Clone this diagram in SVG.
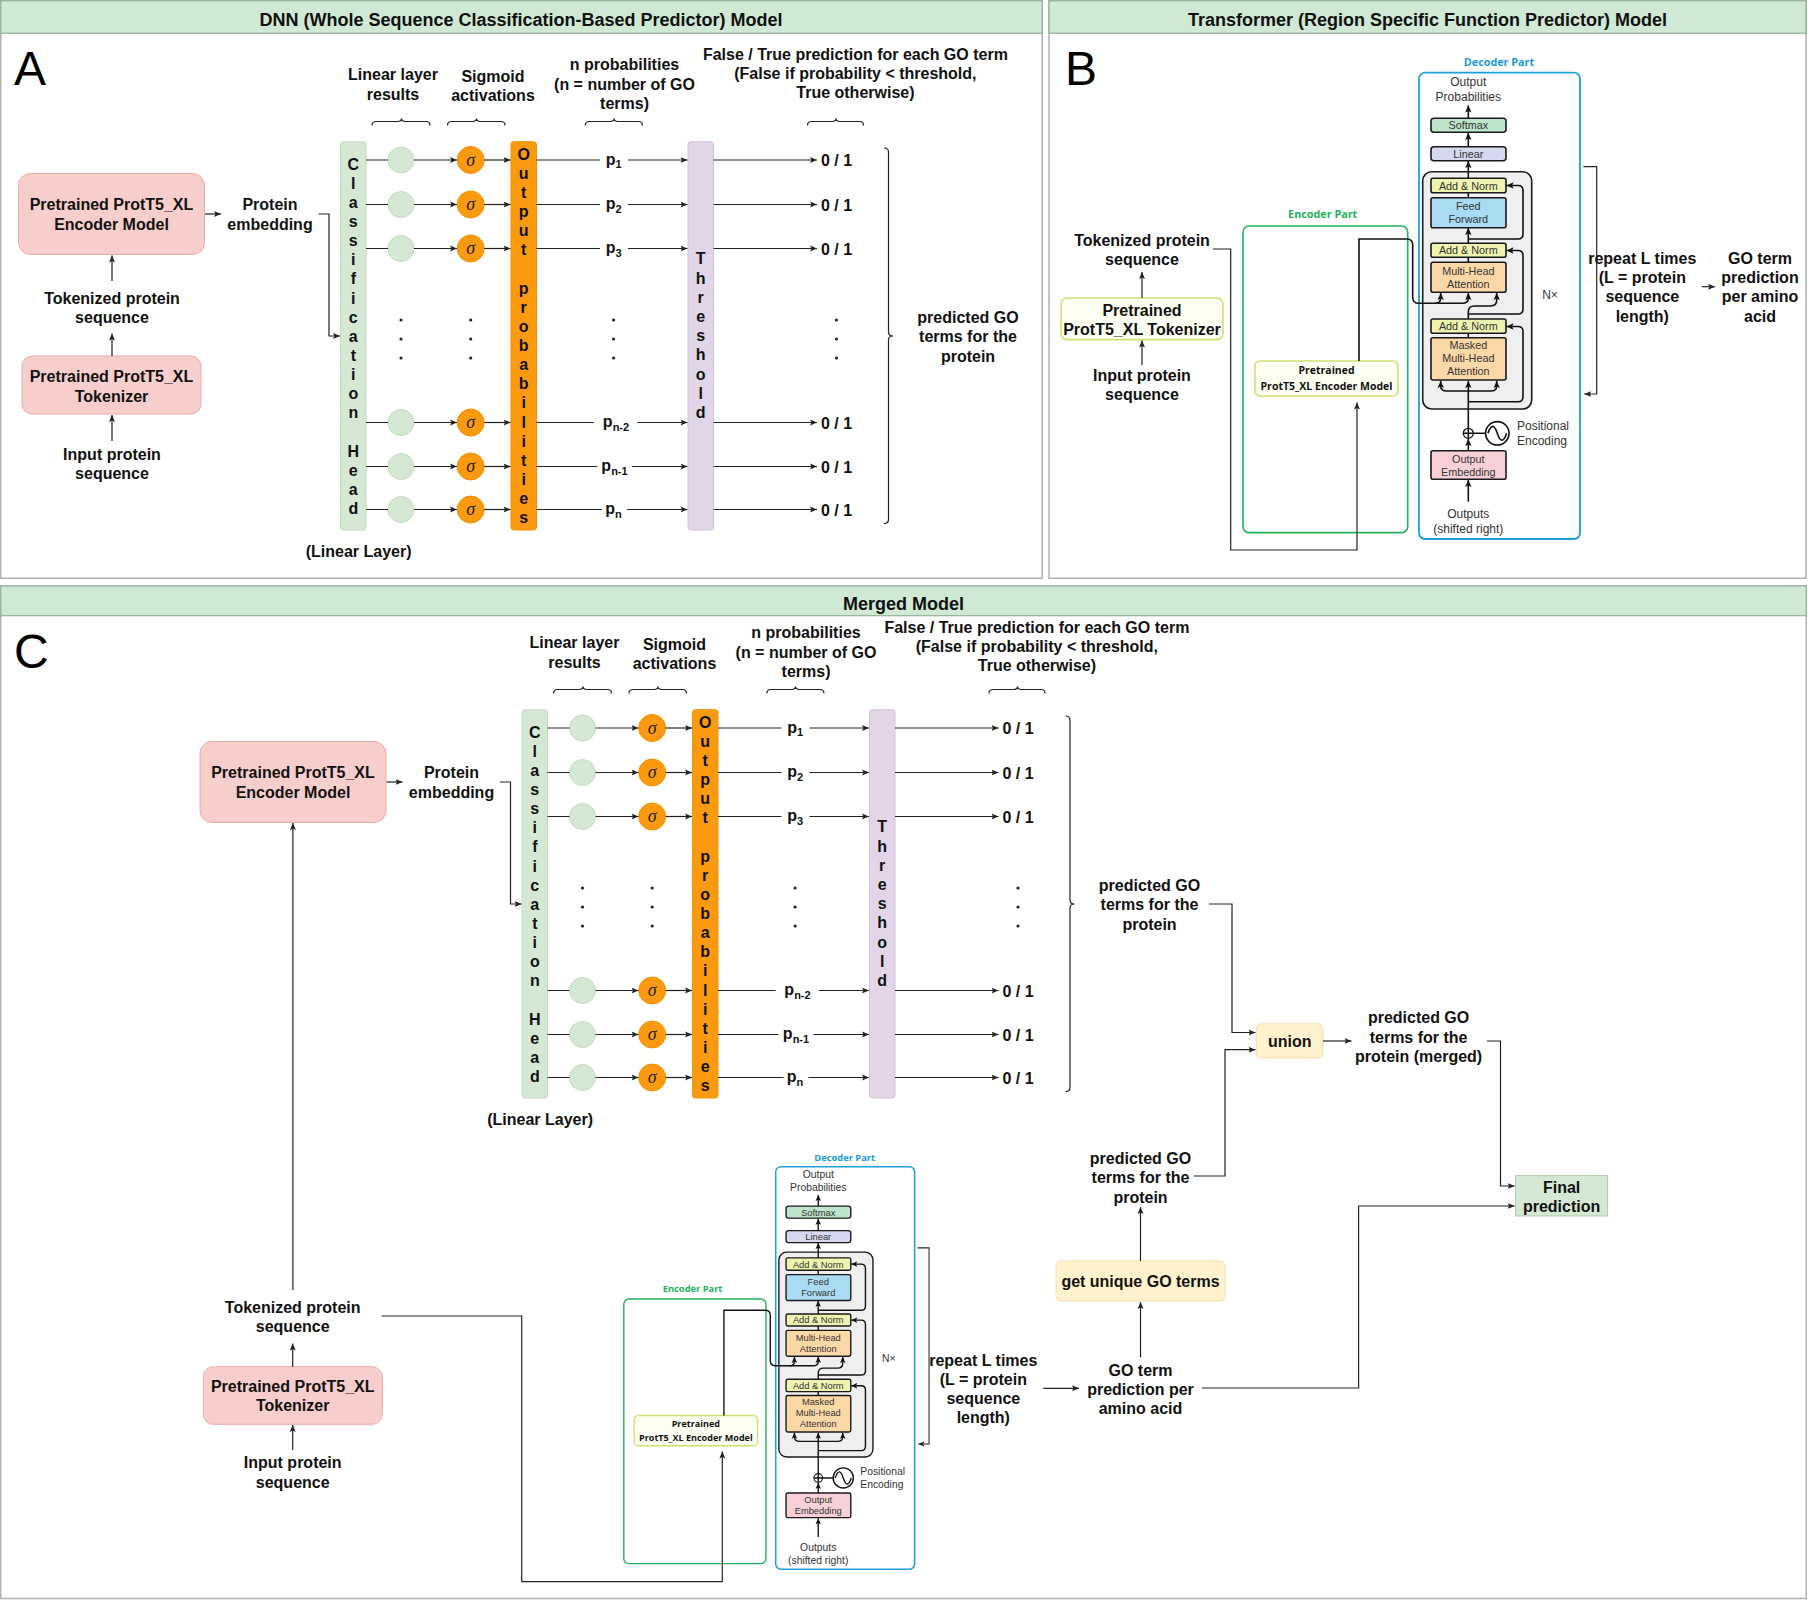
<svg xmlns="http://www.w3.org/2000/svg" xmlns:xlink="http://www.w3.org/1999/xlink" width="1808" height="1600" viewBox="0 0 1808 1600">
<defs>
<style>
.t{font-family:"Liberation Sans",Arial,sans-serif;font-weight:bold;font-size:16px;fill:#111;text-anchor:middle}
.hd{font-family:"Liberation Sans",Arial,sans-serif;font-weight:bold;font-size:18px;fill:#111;text-anchor:middle}
.big{font-family:"Liberation Sans",Arial,sans-serif;font-size:48px;fill:#000}
.ln{fill:none;stroke:#222;stroke-width:1.2}
.lna{fill:none;stroke:#222;stroke-width:1.2;marker-end:url(#ah)}
.frame{fill:#fff;stroke:#b0b0b0;stroke-width:1.5}
.hbar{fill:#d0e9d5;stroke:#8fb198;stroke-width:1.2}
.pink{fill:#f8cecc;stroke:#eaaaaa;stroke-width:1}
.gbar{fill:#d5e8d4;stroke:#c3dac1;stroke-width:1}
.obar{fill:#fb9a0e;stroke:#f39000;stroke-width:1}
.pbar{fill:#e1d5e7;stroke:#d2c3dc;stroke-width:1}
.gc{fill:#d5e8d4;stroke:#c3dac1;stroke-width:1}
.oc{fill:#fb9a0e;stroke:#f39000;stroke-width:1}
.sg{font-family:"Liberation Serif",serif;font-style:italic;font-size:18px;fill:#222;text-anchor:middle}
.sub{font-size:11px}
.dot{fill:#222}
.dt{font-family:"Liberation Sans",Arial,sans-serif;font-size:12px;fill:#333;text-anchor:middle}
.ds{font-family:"Liberation Sans",Arial,sans-serif;font-size:10.8px;fill:#333;text-anchor:middle}
.bx{stroke:#1a1a1a;stroke-width:1.6}
.dk{fill:none;stroke:#111;stroke-width:1.6}
.dka{fill:none;stroke:#111;stroke-width:1.6;marker-end:url(#ah2)}
.part{font-family:"Open Sans","Liberation Sans",sans-serif;font-weight:bold;font-size:10.8px;text-anchor:middle}
.em{font-family:"Open Sans","Liberation Sans",sans-serif;font-weight:bold;font-size:10.5px;fill:#111;text-anchor:middle}
.yb{fill:#fdfff2;stroke:#cce26e;stroke-width:1.6}
.yl{fill:#fff2cc;stroke:#f1e1ad;stroke-width:1}
.fin{fill:#d5e8d4;stroke:#a9cfa6;stroke-width:1}
</style>
<marker id="ah" markerUnits="userSpaceOnUse" markerWidth="8" markerHeight="8" refX="7" refY="4" orient="auto"><path d="M0,1 L7,4 L0,7 L1.5,4 z" fill="#222"/></marker>
<marker id="ah2" markerUnits="userSpaceOnUse" markerWidth="8" markerHeight="8" refX="7" refY="4" orient="auto"><path d="M0,0.8 L7,4 L0,7.2 L1.5,4 z" fill="#111"/></marker>
</defs>
<rect x="0" y="0" width="1808" height="1600" fill="#fff"/>

<!-- ================= PANEL A ================= -->
<g id="panelA">
<rect class="frame" x="0.75" y="0.75" width="1041.5" height="577.5"/>
<rect class="hbar" x="0.75" y="0.75" width="1041.5" height="32.5"/>
<text class="hd" x="521" y="25.5">DNN (Whole Sequence Classification-Based Predictor) Model</text>
<text class="big" x="14" y="85">A</text>

<g id="A-encoder"><rect class="pink" x="18.5" y="173.5" width="186" height="81" rx="12"/>
<text class="t" x="111.5" y="210">Pretrained ProtT5_XL</text><text class="t" x="111.5" y="229.5">Encoder Model</text></g>
<g id="A-tokenized"><text class="t" x="112" y="303.5">Tokenized protein</text><text class="t" x="112" y="323">sequence</text></g>
<g id="A-tokenizer"><rect class="pink" x="22" y="356" width="179" height="58" rx="10"/>
<text class="t" x="111.5" y="382">Pretrained ProtT5_XL</text><text class="t" x="111.5" y="401.5">Tokenizer</text></g>
<g id="A-input"><text class="t" x="112" y="459.5">Input protein</text><text class="t" x="112" y="479">sequence</text></g>
<g id="A-embedding"><text class="t" x="270" y="210">Protein</text><text class="t" x="270" y="229.5">embedding</text></g>

<g id="A-classhead"><rect class="gbar" x="340.6" y="141.7" width="25.4" height="388.3" rx="3"/>
<text class="t"><tspan x="353.3" y="169.5">C</tspan><tspan x="353.3" dy="19.15">l</tspan><tspan x="353.3" dy="19.15">a</tspan><tspan x="353.3" dy="19.15">s</tspan><tspan x="353.3" dy="19.15">s</tspan><tspan x="353.3" dy="19.15">i</tspan><tspan x="353.3" dy="19.15">f</tspan><tspan x="353.3" dy="19.15">i</tspan><tspan x="353.3" dy="19.15">c</tspan><tspan x="353.3" dy="19.15">a</tspan><tspan x="353.3" dy="19.15">t</tspan><tspan x="353.3" dy="19.15">i</tspan><tspan x="353.3" dy="19.15">o</tspan><tspan x="353.3" dy="19.15">n</tspan><tspan x="353.3" dy="38.3">H</tspan><tspan x="353.3" dy="19.15">e</tspan><tspan x="353.3" dy="19.15">a</tspan><tspan x="353.3" dy="19.15">d</tspan></text>
<text class="t" x="358.6" y="556.5">(Linear Layer)</text></g>

<g id="A-outprob"><rect class="obar" x="511" y="141.7" width="25.5" height="388.3" rx="3"/>
<text class="t"><tspan x="523.7" y="159.5">O</tspan><tspan x="523.7" dy="19.15">u</tspan><tspan x="523.7" dy="19.15">t</tspan><tspan x="523.7" dy="19.15">p</tspan><tspan x="523.7" dy="19.15">u</tspan><tspan x="523.7" dy="19.15">t</tspan><tspan x="523.7" dy="38.3">p</tspan><tspan x="523.7" dy="19.15">r</tspan><tspan x="523.7" dy="19.15">o</tspan><tspan x="523.7" dy="19.15">b</tspan><tspan x="523.7" dy="19.15">a</tspan><tspan x="523.7" dy="19.15">b</tspan><tspan x="523.7" dy="19.15">i</tspan><tspan x="523.7" dy="19.15">l</tspan><tspan x="523.7" dy="19.15">i</tspan><tspan x="523.7" dy="19.15">t</tspan><tspan x="523.7" dy="19.15">i</tspan><tspan x="523.7" dy="19.15">e</tspan><tspan x="523.7" dy="19.15">s</tspan></text></g>

<g id="A-threshold"><rect class="pbar" x="688" y="141.7" width="25.5" height="388.3" rx="3"/>
<text class="t"><tspan x="700.7" y="264.4">T</tspan><tspan x="700.7" dy="19.2">h</tspan><tspan x="700.7" dy="19.2">r</tspan><tspan x="700.7" dy="19.2">e</tspan><tspan x="700.7" dy="19.2">s</tspan><tspan x="700.7" dy="19.2">h</tspan><tspan x="700.7" dy="19.2">o</tspan><tspan x="700.7" dy="19.2">l</tspan><tspan x="700.7" dy="19.2">d</tspan></text></g>

<g id="A-labels">
<text class="t" x="393" y="80">Linear layer</text><text class="t" x="393" y="99.5">results</text>
<text class="t" x="493" y="81.5">Sigmoid</text><text class="t" x="493" y="100.5">activations</text>
<text class="t" x="624.5" y="70">n probabilities</text><text class="t" x="624.5" y="89.5">(n = number of GO</text><text class="t" x="624.5" y="109">terms)</text>
<text class="t" x="855.4" y="59.5">False / True prediction for each GO term</text><text class="t" x="855.4" y="79">(False if probability &lt; threshold,</text><text class="t" x="855.4" y="98">True otherwise)</text>
<path class="ln" d="M372,125.5 Q372,121.5 376,121.5 H397.5 Q401.5,121.5 401.5,118.5 Q401.5,121.5 405.5,121.5 H426 Q430,121.5 430,125.5"/>
<path class="ln" d="M447.5,125.5 Q447.5,121.5 451.5,121.5 H472.5 Q476.5,121.5 476.5,118.5 Q476.5,121.5 480.5,121.5 H501 Q505,121.5 505,125.5"/>
<path class="ln" d="M585.3,125.5 Q585.3,121.5 589.3,121.5 H610 Q614,121.5 614,118.5 Q614,121.5 618,121.5 H638.5 Q642.5,121.5 642.5,125.5"/>
<path class="ln" d="M807.5,125.5 Q807.5,121.5 811.5,121.5 H832 Q836,121.5 836,118.5 Q836,121.5 840,121.5 H859.5 Q863.5,121.5 863.5,125.5"/>
</g>

<g id="A-nodes-rows">
<circle class="gc" cx="401" cy="160" r="13"/><circle class="gc" cx="401" cy="204.5" r="13"/><circle class="gc" cx="401" cy="248.5" r="13"/><circle class="gc" cx="401" cy="422.5" r="13"/><circle class="gc" cx="401" cy="466.5" r="13"/><circle class="gc" cx="401" cy="509.5" r="13"/>
<circle class="oc" cx="470.7" cy="160" r="13.5"/><circle class="oc" cx="470.7" cy="204.5" r="13.5"/><circle class="oc" cx="470.7" cy="248.5" r="13.5"/><circle class="oc" cx="470.7" cy="422.5" r="13.5"/><circle class="oc" cx="470.7" cy="466.5" r="13.5"/><circle class="oc" cx="470.7" cy="509.5" r="13.5"/>
<text class="sg" x="470.7" y="165.5">σ</text><text class="sg" x="470.7" y="210">σ</text><text class="sg" x="470.7" y="254">σ</text><text class="sg" x="470.7" y="428">σ</text><text class="sg" x="470.7" y="472">σ</text><text class="sg" x="470.7" y="515">σ</text>
<text class="t" x="613.6" y="164.5">p<tspan class="sub" dy="3.5">1</tspan></text>
<text class="t" x="613.6" y="209">p<tspan class="sub" dy="3.5">2</tspan></text>
<text class="t" x="613.6" y="253">p<tspan class="sub" dy="3.5">3</tspan></text>
<text class="t" x="616" y="427">p<tspan class="sub" dy="3.5">n-2</tspan></text>
<text class="t" x="614.5" y="471">p<tspan class="sub" dy="3.5">n-1</tspan></text>
<text class="t" x="613.6" y="514">p<tspan class="sub" dy="3.5">n</tspan></text>
<text class="t" x="836.5" y="166">0 / 1</text><text class="t" x="836.5" y="210.5">0 / 1</text><text class="t" x="836.5" y="254.5">0 / 1</text><text class="t" x="836.5" y="428.5">0 / 1</text><text class="t" x="836.5" y="472.5">0 / 1</text><text class="t" x="836.5" y="515.5">0 / 1</text>
<circle class="dot" cx="401" cy="320" r="1.6"/><circle class="dot" cx="401" cy="339" r="1.6"/><circle class="dot" cx="401" cy="358" r="1.6"/>
<circle class="dot" cx="470.7" cy="320" r="1.6"/><circle class="dot" cx="470.7" cy="339" r="1.6"/><circle class="dot" cx="470.7" cy="358" r="1.6"/>
<circle class="dot" cx="613.6" cy="320" r="1.6"/><circle class="dot" cx="613.6" cy="339" r="1.6"/><circle class="dot" cx="613.6" cy="358" r="1.6"/>
<circle class="dot" cx="836.5" cy="320" r="1.6"/><circle class="dot" cx="836.5" cy="339" r="1.6"/><circle class="dot" cx="836.5" cy="358" r="1.6"/>
</g>
<g id="A-result"><path class="ln" d="M884,148 Q888.5,148 888.5,152 V332 Q888.5,336 893,336 Q888.5,336 888.5,340 V519.6 Q888.5,523.6 884,523.6"/>
<text class="t" x="968" y="322.5">predicted GO</text><text class="t" x="968" y="341.5">terms for the</text><text class="t" x="968" y="361.5">protein</text></g>

<g id="A-connectors">
<path class="lna" d="M112,281 V255.5"/><path class="lna" d="M112,356 V333.5"/><path class="lna" d="M112,441 V415"/>
<path class="lna" d="M205,214 H221"/><path class="lna" d="M318.5,214 H329 V336 H340"/>
<path class="ln" d="M366,160 H388 M366,204.5 H388 M366,248.5 H388 M366,422.5 H388 M366,466.5 H388 M366,509.5 H388"/>
<path class="lna" d="M414,160 H457"/><path class="lna" d="M414,204.5 H457"/><path class="lna" d="M414,248.5 H457"/><path class="lna" d="M414,422.5 H457"/><path class="lna" d="M414,466.5 H457"/><path class="lna" d="M414,509.5 H457"/>
<path class="lna" d="M484.2,160 H510.5"/><path class="lna" d="M484.2,204.5 H510.5"/><path class="lna" d="M484.2,248.5 H510.5"/><path class="lna" d="M484.2,422.5 H510.5"/><path class="lna" d="M484.2,466.5 H510.5"/><path class="lna" d="M484.2,509.5 H510.5"/>
<path class="ln" d="M536.5,160 H600 M536.5,204.5 H600 M536.5,248.5 H600 M536.5,422.5 H594 M536.5,466.5 H597 M536.5,509.5 H602"/>
<path class="lna" d="M628,160 H687.5"/><path class="lna" d="M628,204.5 H687.5"/><path class="lna" d="M628,248.5 H687.5"/><path class="lna" d="M637.5,422.5 H687.5"/><path class="lna" d="M632,466.5 H687.5"/><path class="lna" d="M627,509.5 H687.5"/>
<path class="lna" d="M713.5,160 H817"/><path class="lna" d="M713.5,204.5 H817"/><path class="lna" d="M713.5,248.5 H817"/><path class="lna" d="M713.5,422.5 H817"/><path class="lna" d="M713.5,466.5 H817"/><path class="lna" d="M713.5,509.5 H817"/>
</g>
</g>

<!-- ================= PANEL B ================= -->
<g id="panelB">
<rect class="frame" x="1049" y="0.75" width="757" height="577.5"/>
<rect class="hbar" x="1049" y="0.75" width="757" height="32.5"/>
<text class="hd" x="1427.5" y="25.5">Transformer (Region Specific Function Predictor) Model</text>
<text class="big" x="1065" y="85">B</text>

<g id="transformerB">
<g id="B-encoderPart"><text class="part" x="1322.7" y="218" fill="#1db35a">Encoder Part</text>
<rect x="1243" y="226" width="164.7" height="306.6" rx="6" fill="none" stroke="#20b35c" stroke-width="1.6"/></g>
<g id="B-encoderModel"><rect class="yb" x="1255" y="361" width="143" height="35" rx="5"/>
<text class="em" x="1326.5" y="374">Pretrained</text><text class="em" x="1326.5" y="390">ProtT5_XL Encoder Model</text></g>
<g id="B-decoderPart"><text class="part" x="1499" y="65.5" fill="#1b9ad6">Decoder Part</text>
<rect x="1419" y="72.7" width="161" height="466.3" rx="6" fill="#fff" stroke="#1ea0dc" stroke-width="1.8"/></g>
<g id="B-outprobs"><text class="dt" x="1468.3" y="86">Output</text><text class="dt" x="1468.3" y="101">Probabilities</text></g>
<g id="B-softmax"><rect class="bx" x="1431" y="118.3" width="75" height="14" rx="3" fill="#bde5cb"/><text class="ds" x="1468.3" y="129.3">Softmax</text></g>
<g id="B-linear"><rect class="bx" x="1431" y="146.7" width="75" height="14" rx="3" fill="#d5d8ef"/><text class="ds" x="1468.3" y="157.7">Linear</text></g>
<g id="B-nx"><rect x="1422.7" y="171.7" width="109" height="237.3" rx="9" fill="#efefef" stroke="#1a1a1a" stroke-width="1.6"/><text class="dt" x="1550" y="299">N×</text></g>
<g id="B-addnorm1"><rect class="bx" x="1431" y="178.3" width="75" height="14.4" rx="2" fill="#eff3b0"/><text class="ds" x="1468.3" y="189.5">Add &amp; Norm</text></g>
<g id="B-ff"><rect class="bx" x="1431" y="197.7" width="75" height="30" rx="2" fill="#a9dcf2"/><text class="ds" x="1468.3" y="210">Feed</text><text class="ds" x="1468.3" y="223">Forward</text></g>
<g id="B-addnorm2"><rect class="bx" x="1431" y="243.3" width="75" height="14" rx="2" fill="#eff3b0"/><text class="ds" x="1468.3" y="254.3">Add &amp; Norm</text></g>
<g id="B-mha"><rect class="bx" x="1431" y="262.3" width="75" height="30" rx="2" fill="#fdd8a7"/><text class="ds" x="1468.3" y="274.5">Multi-Head</text><text class="ds" x="1468.3" y="287.5">Attention</text></g>
<g id="B-addnorm3"><rect class="bx" x="1431" y="319" width="75" height="14.3" rx="2" fill="#eff3b0"/><text class="ds" x="1468.3" y="330">Add &amp; Norm</text></g>
<g id="B-masked"><rect class="bx" x="1431" y="337.7" width="75" height="42.3" rx="2" fill="#fdd8a7"/><text class="ds" x="1468.3" y="348.8">Masked</text><text class="ds" x="1468.3" y="361.8">Multi-Head</text><text class="ds" x="1468.3" y="374.8">Attention</text></g>
<g id="B-posenc"><circle cx="1468.3" cy="433.3" r="5" fill="#fff" stroke="#111" stroke-width="1.3"/><path class="dk" d="M1463.3,433.3 H1473.3 M1468.3,428.3 V438.3 M1473.3,433.3 H1485.6" stroke-width="1.3"/>
<circle cx="1497.3" cy="433.3" r="11.7" fill="#fff" stroke="#111" stroke-width="1.6"/>
<path class="dk" stroke-width="1.3" d="M1488,433.3 C1491,424 1494.3,424 1497.3,433.3 C1500.3,442.6 1503.6,442.6 1506.6,433.3"/>
<text class="dt" x="1517" y="430" style="text-anchor:start">Positional</text><text class="dt" x="1517" y="445" style="text-anchor:start">Encoding</text></g>
<g id="B-embedding"><rect class="bx" x="1431" y="450.7" width="75" height="28.6" rx="2" fill="#f9d0d8"/><text class="ds" x="1468.3" y="462.5">Output</text><text class="ds" x="1468.3" y="475.5">Embedding</text></g>
<g id="B-outputs"><text class="dt" x="1468.3" y="517.5">Outputs</text><text class="dt" x="1468.3" y="532.5">(shifted right)</text></g>
<g id="B-tf-connectors">
<path class="dka" d="M1468.3,118.3 V105.5"/>
<path class="dka" d="M1468.3,146.7 V133"/>
<path class="dka" d="M1468.3,178.3 V161"/>
<path class="dk" d="M1468.3,197.7 V192.7"/>
<path class="dka" d="M1468.3,243.3 V228"/>
<path class="dka" d="M1468.3,239 H1518 Q1523,239 1523,234 V190.5 Q1523,185.5 1518,185.5 H1506.5"/>
<path class="dk" d="M1468.3,262.3 V257.3"/>
<path class="dka" d="M1468.3,314 H1518 Q1523,314 1523,309 V255.5 Q1523,250.5 1518,250.5 H1506.5"/>
<path class="dka" d="M1468.3,319 V312 Q1468.3,306 1474.3,306 H1490.7 Q1496.7,306 1496.7,300 V293"/>
<path class="dk" d="M1468.3,337.7 V333.3"/>
<path class="dka" d="M1468.3,401.7 H1518 Q1523,401.7 1523,396.7 V331.5 Q1523,326.5 1518,326.5 H1506.5"/>
<path class="dka" d="M1468.3,428.3 V381"/>
<path class="dka" d="M1468.3,391 H1446.7 Q1440.7,391 1440.7,386 V381"/>
<path class="dka" d="M1468.3,391 H1490.7 Q1496.7,391 1496.7,386 V381"/>
<path class="dka" d="M1468.3,450.7 V439"/>
<path class="dka" d="M1468.3,501.7 V480"/>
<path class="dka" d="M1359,361 V239 H1406.7 Q1412.7,239 1412.7,245 V297.3 Q1412.7,303.3 1418.7,303.3 H1434.7 Q1440.7,303.3 1440.7,298 V293"/>
<path class="dka" d="M1434.7,303.3 H1462.3 Q1468.3,303.3 1468.3,298 V293"/>
<path class="lna" d="M1583.3,166.7 H1596.7 V394 H1584.3"/>
</g>
</g>

<g id="B-tokenized"><text class="t" x="1142" y="245.5">Tokenized protein</text><text class="t" x="1142" y="264.5">sequence</text></g>
<g id="B-tokenizer"><rect class="yb" x="1061" y="298" width="162" height="41.6" rx="6"/>
<text class="t" x="1142" y="316">Pretrained</text><text class="t" x="1142" y="335">ProtT5_XL Tokenizer</text></g>
<g id="B-input"><text class="t" x="1142" y="380.5">Input protein</text><text class="t" x="1142" y="400">sequence</text></g>
<g id="B-repeat"><text class="t" x="1642.3" y="264">repeat L times</text><text class="t" x="1642.3" y="283">(L = protein</text><text class="t" x="1642.3" y="302">sequence</text><text class="t" x="1642.3" y="321.5">length)</text></g>
<g id="B-goterm"><text class="t" x="1760" y="264">GO term</text><text class="t" x="1760" y="283">prediction</text><text class="t" x="1760" y="302">per amino</text><text class="t" x="1760" y="321.5">acid</text></g>
<g id="B-connectors">
<path class="lna" d="M1142,298 V272"/>
<path class="lna" d="M1142,365 V340.5"/>
<path class="lna" d="M1213,249 H1230.7 V550 H1357 V402.5"/>
<path class="lna" d="M1701.7,286.7 H1715"/>
</g>
</g>

<!-- ================= PANEL C ================= -->
<g id="panelC">
<rect class="frame" x="0.75" y="586" width="1805.5" height="1012.5"/>
<rect class="hbar" x="0.75" y="586" width="1805.5" height="29.7"/>
<text class="hd" x="903.5" y="609.5">Merged Model</text>
<text class="big" x="14" y="668">C</text>

<g id="C-dnn" transform="translate(181.5,568)">
<g id="C-encoder"><rect class="pink" x="18.5" y="173.5" width="186" height="81" rx="12"/>
<text class="t" x="111.5" y="210">Pretrained ProtT5_XL</text><text class="t" x="111.5" y="229.5">Encoder Model</text></g>
<g id="C-embedding"><text class="t" x="270" y="210">Protein</text><text class="t" x="270" y="229.5">embedding</text></g>
<g id="C-classhead"><rect class="gbar" x="340.6" y="141.7" width="25.4" height="388.3" rx="3"/>
<text class="t"><tspan x="353.3" y="169.5">C</tspan><tspan x="353.3" dy="19.15">l</tspan><tspan x="353.3" dy="19.15">a</tspan><tspan x="353.3" dy="19.15">s</tspan><tspan x="353.3" dy="19.15">s</tspan><tspan x="353.3" dy="19.15">i</tspan><tspan x="353.3" dy="19.15">f</tspan><tspan x="353.3" dy="19.15">i</tspan><tspan x="353.3" dy="19.15">c</tspan><tspan x="353.3" dy="19.15">a</tspan><tspan x="353.3" dy="19.15">t</tspan><tspan x="353.3" dy="19.15">i</tspan><tspan x="353.3" dy="19.15">o</tspan><tspan x="353.3" dy="19.15">n</tspan><tspan x="353.3" dy="38.3">H</tspan><tspan x="353.3" dy="19.15">e</tspan><tspan x="353.3" dy="19.15">a</tspan><tspan x="353.3" dy="19.15">d</tspan></text>
<text class="t" x="358.6" y="556.5">(Linear Layer)</text></g>
<g id="C-outprob"><rect class="obar" x="511" y="141.7" width="25.5" height="388.3" rx="3"/>
<text class="t"><tspan x="523.7" y="159.5">O</tspan><tspan x="523.7" dy="19.15">u</tspan><tspan x="523.7" dy="19.15">t</tspan><tspan x="523.7" dy="19.15">p</tspan><tspan x="523.7" dy="19.15">u</tspan><tspan x="523.7" dy="19.15">t</tspan><tspan x="523.7" dy="38.3">p</tspan><tspan x="523.7" dy="19.15">r</tspan><tspan x="523.7" dy="19.15">o</tspan><tspan x="523.7" dy="19.15">b</tspan><tspan x="523.7" dy="19.15">a</tspan><tspan x="523.7" dy="19.15">b</tspan><tspan x="523.7" dy="19.15">i</tspan><tspan x="523.7" dy="19.15">l</tspan><tspan x="523.7" dy="19.15">i</tspan><tspan x="523.7" dy="19.15">t</tspan><tspan x="523.7" dy="19.15">i</tspan><tspan x="523.7" dy="19.15">e</tspan><tspan x="523.7" dy="19.15">s</tspan></text></g>
<g id="C-threshold"><rect class="pbar" x="688" y="141.7" width="25.5" height="388.3" rx="3"/>
<text class="t"><tspan x="700.7" y="264.4">T</tspan><tspan x="700.7" dy="19.2">h</tspan><tspan x="700.7" dy="19.2">r</tspan><tspan x="700.7" dy="19.2">e</tspan><tspan x="700.7" dy="19.2">s</tspan><tspan x="700.7" dy="19.2">h</tspan><tspan x="700.7" dy="19.2">o</tspan><tspan x="700.7" dy="19.2">l</tspan><tspan x="700.7" dy="19.2">d</tspan></text></g>
<g id="C-labels">
<text class="t" x="393" y="80">Linear layer</text><text class="t" x="393" y="99.5">results</text>
<text class="t" x="493" y="81.5">Sigmoid</text><text class="t" x="493" y="100.5">activations</text>
<text class="t" x="624.5" y="70">n probabilities</text><text class="t" x="624.5" y="89.5">(n = number of GO</text><text class="t" x="624.5" y="109">terms)</text>
<text class="t" x="855.4" y="64.5">False / True prediction for each GO term</text><text class="t" x="855.4" y="84">(False if probability &lt; threshold,</text><text class="t" x="855.4" y="103">True otherwise)</text>
<path class="ln" d="M372,125.5 Q372,121.5 376,121.5 H397.5 Q401.5,121.5 401.5,118.5 Q401.5,121.5 405.5,121.5 H426 Q430,121.5 430,125.5"/>
<path class="ln" d="M447.5,125.5 Q447.5,121.5 451.5,121.5 H472.5 Q476.5,121.5 476.5,118.5 Q476.5,121.5 480.5,121.5 H501 Q505,121.5 505,125.5"/>
<path class="ln" d="M585.3,125.5 Q585.3,121.5 589.3,121.5 H610 Q614,121.5 614,118.5 Q614,121.5 618,121.5 H638.5 Q642.5,121.5 642.5,125.5"/>
<path class="ln" d="M807.5,125.5 Q807.5,121.5 811.5,121.5 H832 Q836,121.5 836,118.5 Q836,121.5 840,121.5 H859.5 Q863.5,121.5 863.5,125.5"/>
</g>
<g id="C-nodes-rows">
<circle class="gc" cx="401" cy="160" r="13"/><circle class="gc" cx="401" cy="204.5" r="13"/><circle class="gc" cx="401" cy="248.5" r="13"/><circle class="gc" cx="401" cy="422.5" r="13"/><circle class="gc" cx="401" cy="466.5" r="13"/><circle class="gc" cx="401" cy="509.5" r="13"/>
<circle class="oc" cx="470.7" cy="160" r="13.5"/><circle class="oc" cx="470.7" cy="204.5" r="13.5"/><circle class="oc" cx="470.7" cy="248.5" r="13.5"/><circle class="oc" cx="470.7" cy="422.5" r="13.5"/><circle class="oc" cx="470.7" cy="466.5" r="13.5"/><circle class="oc" cx="470.7" cy="509.5" r="13.5"/>
<text class="sg" x="470.7" y="165.5">σ</text><text class="sg" x="470.7" y="210">σ</text><text class="sg" x="470.7" y="254">σ</text><text class="sg" x="470.7" y="428">σ</text><text class="sg" x="470.7" y="472">σ</text><text class="sg" x="470.7" y="515">σ</text>
<text class="t" x="613.6" y="164.5">p<tspan class="sub" dy="3.5">1</tspan></text>
<text class="t" x="613.6" y="209">p<tspan class="sub" dy="3.5">2</tspan></text>
<text class="t" x="613.6" y="253">p<tspan class="sub" dy="3.5">3</tspan></text>
<text class="t" x="616" y="427">p<tspan class="sub" dy="3.5">n-2</tspan></text>
<text class="t" x="614.5" y="471">p<tspan class="sub" dy="3.5">n-1</tspan></text>
<text class="t" x="613.6" y="514">p<tspan class="sub" dy="3.5">n</tspan></text>
<text class="t" x="836.5" y="166">0 / 1</text><text class="t" x="836.5" y="210.5">0 / 1</text><text class="t" x="836.5" y="254.5">0 / 1</text><text class="t" x="836.5" y="428.5">0 / 1</text><text class="t" x="836.5" y="472.5">0 / 1</text><text class="t" x="836.5" y="515.5">0 / 1</text>
<circle class="dot" cx="401" cy="320" r="1.6"/><circle class="dot" cx="401" cy="339" r="1.6"/><circle class="dot" cx="401" cy="358" r="1.6"/>
<circle class="dot" cx="470.7" cy="320" r="1.6"/><circle class="dot" cx="470.7" cy="339" r="1.6"/><circle class="dot" cx="470.7" cy="358" r="1.6"/>
<circle class="dot" cx="613.6" cy="320" r="1.6"/><circle class="dot" cx="613.6" cy="339" r="1.6"/><circle class="dot" cx="613.6" cy="358" r="1.6"/>
<circle class="dot" cx="836.5" cy="320" r="1.6"/><circle class="dot" cx="836.5" cy="339" r="1.6"/><circle class="dot" cx="836.5" cy="358" r="1.6"/>
</g>
<g id="C-result"><path class="ln" d="M884,148 Q888.5,148 888.5,152 V332 Q888.5,336 893,336 Q888.5,336 888.5,340 V519.6 Q888.5,523.6 884,523.6"/>
<text class="t" x="968" y="322.5">predicted GO</text><text class="t" x="968" y="341.5">terms for the</text><text class="t" x="968" y="361.5">protein</text></g>
<g id="C-dnn-connectors">
<path class="lna" d="M205,214 H221"/><path class="lna" d="M318.5,214 H329 V336 H340"/>
<path class="ln" d="M366,160 H388 M366,204.5 H388 M366,248.5 H388 M366,422.5 H388 M366,466.5 H388 M366,509.5 H388"/>
<path class="lna" d="M414,160 H457"/><path class="lna" d="M414,204.5 H457"/><path class="lna" d="M414,248.5 H457"/><path class="lna" d="M414,422.5 H457"/><path class="lna" d="M414,466.5 H457"/><path class="lna" d="M414,509.5 H457"/>
<path class="lna" d="M484.2,160 H510.5"/><path class="lna" d="M484.2,204.5 H510.5"/><path class="lna" d="M484.2,248.5 H510.5"/><path class="lna" d="M484.2,422.5 H510.5"/><path class="lna" d="M484.2,466.5 H510.5"/><path class="lna" d="M484.2,509.5 H510.5"/>
<path class="ln" d="M536.5,160 H600 M536.5,204.5 H600 M536.5,248.5 H600 M536.5,422.5 H594 M536.5,466.5 H597 M536.5,509.5 H602"/>
<path class="lna" d="M628,160 H687.5"/><path class="lna" d="M628,204.5 H687.5"/><path class="lna" d="M628,248.5 H687.5"/><path class="lna" d="M637.5,422.5 H687.5"/><path class="lna" d="M632,466.5 H687.5"/><path class="lna" d="M627,509.5 H687.5"/>
<path class="lna" d="M713.5,160 H817"/><path class="lna" d="M713.5,204.5 H817"/><path class="lna" d="M713.5,248.5 H817"/><path class="lna" d="M713.5,422.5 H817"/><path class="lna" d="M713.5,466.5 H817"/><path class="lna" d="M713.5,509.5 H817"/>
</g>
</g>

<g id="C-tokenized"><text class="t" x="292.7" y="1313">Tokenized protein</text><text class="t" x="292.7" y="1332">sequence</text></g>
<g id="C-tokenizer"><rect class="pink" x="203.3" y="1366.7" width="179" height="57.6" rx="10"/>
<text class="t" x="292.7" y="1392">Pretrained ProtT5_XL</text><text class="t" x="292.7" y="1411">Tokenizer</text></g>
<g id="C-input"><text class="t" x="292.7" y="1468">Input protein</text><text class="t" x="292.7" y="1488">sequence</text></g>

<g id="C-transformer"><use xlink:href="#transformerB" href="#transformerB" transform="translate(-448.9,1104) scale(0.863)"/></g>
<g id="C-repeat"><text class="t" x="983.3" y="1365.5">repeat L times</text><text class="t" x="983.3" y="1385">(L = protein</text><text class="t" x="983.3" y="1404">sequence</text><text class="t" x="983.3" y="1423">length)</text></g>

<g id="C-union"><rect class="yl" x="1256.5" y="1023.7" width="66.5" height="34.3" rx="5"/><text class="t" x="1289.8" y="1047">union</text></g>
<g id="C-merged"><text class="t" x="1418.6" y="1022.5">predicted GO</text><text class="t" x="1418.6" y="1042.5">terms for the</text><text class="t" x="1418.6" y="1061.5">protein (merged)</text></g>
<g id="C-final"><rect class="fin" x="1515.6" y="1175.6" width="92" height="40.4"/><text class="t" x="1561.6" y="1192.5">Final</text><text class="t" x="1561.6" y="1211.5">prediction</text></g>
<g id="C-predicted2"><text class="t" x="1140.5" y="1164">predicted GO</text><text class="t" x="1140.5" y="1183">terms for the</text><text class="t" x="1140.5" y="1202.5">protein</text></g>
<g id="C-unique"><rect class="yl" x="1056" y="1261" width="169" height="40" rx="5"/><text class="t" x="1140.5" y="1287">get unique GO terms</text></g>
<g id="C-goterm"><text class="t" x="1140.5" y="1375.5">GO term</text><text class="t" x="1140.5" y="1394.5">prediction per</text><text class="t" x="1140.5" y="1413.5">amino acid</text></g>

<g id="C-connectors">
<path class="lna" d="M292.9,1290 V823"/>
<path class="lna" d="M292.7,1366.7 V1343.5"/>
<path class="lna" d="M292.7,1450 V1425"/>
<path class="lna" d="M381.7,1316 H521.7 V1581.7 H722.3 V1451.5"/>
<path class="lna" d="M1043.3,1388.3 H1079"/>
<path class="lna" d="M1209,904 H1232 V1032.5 H1255.5"/>
<path class="lna" d="M1194,1176 H1225 V1049.7 H1255.5"/>
<path class="lna" d="M1323,1041 H1351.5"/>
<path class="lna" d="M1487,1041 H1500.5 V1186 H1514.6"/>
<path class="lna" d="M1201.7,1388 H1358.6 V1206 H1514.6"/>
<path class="lna" d="M1140.5,1261 V1207"/>
<path class="lna" d="M1140.5,1357.5 V1302"/>
</g>
</g>
</svg>
